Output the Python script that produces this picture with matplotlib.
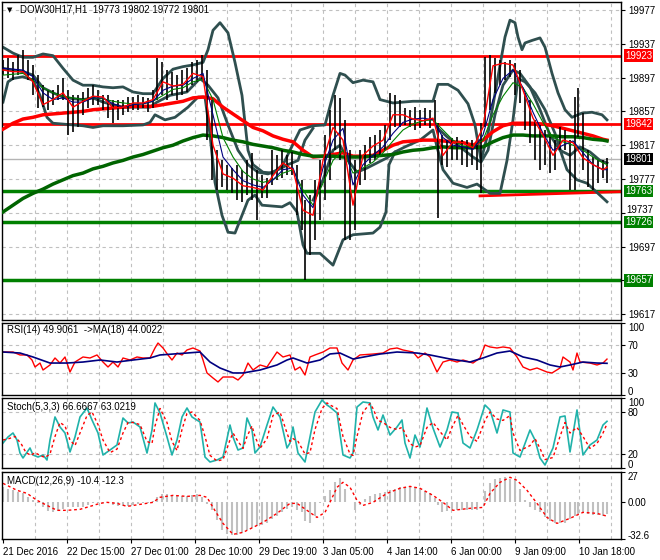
import matplotlib
matplotlib.use('Agg')
import matplotlib.pyplot as plt
from matplotlib.transforms import blended_transform_factory

plt.rcParams['font.family'] = ['Liberation Sans', 'DejaVu Sans']
plt.rcParams['font.size'] = 7

# ---------------- price bars (bar index, high, low) ----------------
bar_x = [0, 2.5, 5, 7.5, 10, 12.5, 15, 17.5, 20, 22.5,
         25, 27.5, 30, 32.5, 35, 37.5, 40, 42.5, 45, 47.5,
         50, 52.5, 55, 57.5, 60, 62.5, 65, 67.5, 70, 72.5,
         75, 77, 79.5, 82, 84.5, 87, 89.5, 92, 94.5, 97,
         99.5, 102, 104.5, 107, 109.5, 112, 114.5, 117, 119.5, 122,
         124.5, 127, 129.5, 132, 134.5, 137, 139.5, 142, 144.5, 147,
         149.5, 151, 153.5, 156, 158.5, 161, 163.5, 166, 168.5, 171,
         173.5, 176, 178.5, 181, 183.5, 186, 188.5, 191, 193.5, 196,
         198.5, 201, 203.5, 206, 208.5, 211, 213.5, 216, 217.5, 219.5,
         222, 224.5, 227, 229.5, 232, 234.5, 237, 239, 241, 243.5,
         246, 248.5, 251, 253.5, 256, 258.5, 261, 263.5, 266, 268.5,
         271, 273.5, 276, 278.5, 281, 283.5, 286, 287.5, 290, 292.5,
         295, 297.5, 300, 302]
bar_high = [19918, 19920, 19915, 19924, 19930, 19918, 19912, 19900, 19888, 19882,
            19882, 19888, 19896, 19882, 19876, 19876, 19880, 19885, 19888, 19882,
            19876, 19876, 19871, 19871, 19871, 19874, 19874, 19876, 19874, 19873,
            19882, 19920, 19915, 19906, 19904, 19900, 19906, 19908, 19915, 19918,
            19924, 19906, 19871, 19811, 19799, 19794, 19790, 19794, 19788, 19799,
            19808, 19788, 19782, 19778, 19811, 19805, 19811, 19805, 19809, 19794,
            19776, 19752, 19758, 19776, 19799, 19829, 19859, 19876, 19873, 19847,
            19811, 19799, 19811, 19817, 19827, 19829, 19835, 19841, 19879, 19876,
            19871, 19861, 19859, 19862, 19859, 19861, 19859, 19871, 19843, 19829,
            19823, 19826, 19827, 19823, 19823, 19823, 19817, 19843, 19921, 19924,
            19920, 19918, 19915, 19918, 19914, 19906, 19879, 19871, 19847, 19841,
            19835, 19827, 19823, 19838, 19835, 19823, 19874, 19885, 19855, 19811,
            19803, 19799, 19799, 19802]
bar_low = [19900, 19896, 19894, 19900, 19904, 19894, 19876, 19861, 19862, 19859,
           19865, 19871, 19871, 19829, 19833, 19838, 19853, 19861, 19865, 19865,
           19859, 19849, 19843, 19847, 19853, 19856, 19859, 19859, 19861, 19856,
           19861, 19871, 19876, 19871, 19876, 19871, 19876, 19880, 19888, 19892,
           19894, 19823, 19776, 19764, 19767, 19764, 19760, 19752, 19750, 19758,
           19752, 19728, 19754, 19754, 19770, 19776, 19778, 19782, 19782, 19734,
           19717, 19657, 19687, 19705, 19728, 19752, 19776, 19811, 19799, 19705,
           19705, 19717, 19770, 19776, 19796, 19799, 19805, 19811, 19823, 19838,
           19838, 19841, 19838, 19835, 19837, 19841, 19837, 19841, 19731, 19794,
           19791, 19799, 19799, 19794, 19791, 19794, 19788, 19760, 19838, 19859,
           19879, 19888, 19894, 19898, 19876, 19867, 19835, 19820, 19799, 19788,
           19794, 19784, 19788, 19811, 19811, 19764, 19764, 19827, 19788, 19767,
           19764, 19772, 19778, 19772]

# ---------------- moving averages, read every 5 bars ----------------
ma_x = [0, 5, 10, 15, 20, 25, 30, 35, 40, 45, 50, 55, 60, 65, 70, 75, 80, 85, 90, 95,
        100, 105, 110, 115, 120, 125, 130, 135, 140, 145, 150, 155, 160, 165, 170, 175,
        180, 185, 190, 195, 200, 205, 210, 215, 220, 225, 230, 235, 240, 245, 250, 255,
        260, 265, 270, 275, 280, 285, 290, 295, 300, 302]
ma_fast = [19906, 19904, 19904, 19892, 19865, 19871, 19879, 19862, 19869, 19875,
           19874, 19861, 19862, 19867, 19867, 19871, 19892, 19887, 19889, 19902,
           19898, 19817, 19783, 19778, 19769, 19767, 19764, 19781, 19796, 19788,
           19740, 19734, 19799, 19838, 19823, 19746, 19805, 19816, 19823, 19853,
           19853, 19848, 19846, 19849, 19805, 19821, 19820, 19814, 19838, 19911,
           19914, 19912, 19882, 19849, 19829, 19805, 19823, 19820, 19802, 19794,
           19788, 19791]
ma_blue = [19908, 19907, 19906, 19898, 19879, 19871, 19873, 19868, 19868, 19873,
           19873, 19866, 19862, 19865, 19866, 19869, 19882, 19887, 19888, 19896,
           19902, 19853, 19803, 19788, 19775, 19770, 19767, 19776, 19788, 19790,
           19758, 19743, 19790, 19823, 19837, 19770, 19794, 19805, 19815, 19831,
           19844, 19848, 19849, 19847, 19826, 19817, 19815, 19812, 19829, 19871,
           19896, 19906, 19885, 19856, 19831, 19811, 19817, 19822, 19808, 19794,
           19788, 19788]
ma_green = [19900, 19901, 19902, 19894, 19885, 19879, 19875, 19873, 19871, 19873,
            19872, 19869, 19867, 19866, 19866, 19869, 19876, 19883, 19885, 19892,
            19895, 19871, 19826, 19803, 19786, 19777, 19773, 19776, 19784, 19788,
            19764, 19746, 19772, 19799, 19811, 19784, 19790, 19797, 19808, 19822,
            19835, 19842, 19846, 19847, 19835, 19823, 19816, 19816, 19823, 19853,
            19875, 19891, 19885, 19866, 19844, 19826, 19821, 19817, 19811, 19803,
            19796, 19794]
ma_100 = [19836, 19843, 19848, 19850, 19853, 19854, 19855, 19856, 19857, 19859,
          19860, 19861, 19862, 19863, 19863, 19863, 19865, 19867, 19869, 19873,
          19874, 19872, 19862, 19854, 19846, 19838, 19834, 19828, 19824, 19821,
          19811, 19803, 19804, 19806, 19808, 19804, 19804, 19805, 19811, 19817,
          19821, 19822, 19823, 19823, 19822, 19821, 19820, 19817, 19823, 19833,
          19840, 19843, 19843, 19843, 19842, 19840, 19837, 19834, 19831, 19828,
          19824, 19823]
ma_200 = [19738, 19746, 19754, 19760, 19765, 19771, 19776, 19781, 19784, 19789,
          19792, 19796, 19799, 19803, 19806, 19810, 19814, 19817, 19822, 19826,
          19829, 19828, 19826, 19823, 19821, 19818, 19816, 19814, 19811, 19809,
          19806, 19804, 19804, 19804, 19803, 19803, 19803, 19804, 19805, 19806,
          19809, 19811, 19812, 19814, 19815, 19814, 19814, 19814, 19815, 19821,
          19826, 19829, 19829, 19828, 19828, 19828, 19827, 19827, 19826, 19824,
          19823, 19822]

# ---------------- band lines ----------------
wu_x = [0, 5, 10, 15, 20, 25, 30, 35, 40, 45, 50, 55, 60, 65, 70, 75, 80, 85, 90, 95,
        100, 102.5, 105, 108.5, 112.5, 116, 119.5, 122.5, 125, 130, 135, 140, 143.5,
        148.5, 155, 161, 165, 168.5, 171, 175, 180, 185, 188.5, 195, 205, 215, 217.5,
        222.5, 227.5, 232.5, 236, 239, 242.5, 247.5, 251, 253.5, 256, 257.5, 259.5,
        261, 264.5, 268.5, 271, 274.5, 277.5, 281, 284.5, 289.5, 294.5, 299.5, 302]
wu_y = [19933, 19926, 19921, 19921, 19925, 19923, 19908, 19894, 19888, 19888,
        19886, 19885, 19886, 19880, 19878, 19878, 19896, 19907, 19910, 19912,
        19915, 19930, 19953, 19962, 19950, 19915, 19876, 19811, 19794, 19785,
        19784, 19794, 19811, 19835, 19840, 19841, 19876, 19902, 19900, 19891,
        19894, 19892, 19871, 19867, 19869, 19869, 19889, 19889, 19882, 19866,
        19841, 19799, 19831, 19898, 19945, 19965, 19962, 19945, 19930, 19938,
        19941, 19944, 19933, 19902, 19879, 19859, 19850, 19855, 19856, 19853, 19847]
wl_x = [0, 2.5, 5, 10, 15, 18.5, 22, 25, 30, 35, 40, 45, 50, 60, 70, 73.5, 76, 81, 86,
        92.5, 97.5, 101, 103.5, 106, 109.5, 112.5, 116, 119.5, 122.5, 126, 129.5,
        134.5, 139.5, 143.5, 147, 150, 152, 158.5, 165, 170, 175, 185, 188.5, 191.5,
        193, 196, 201, 208.5, 215, 217, 220, 225, 232, 237, 240, 243.5, 248.5, 252,
        255, 257.5, 261, 266, 271, 276, 279.5, 282, 287, 292, 297, 302]
wl_y = [19868, 19892, 19896, 19898, 19894, 19876, 19850, 19843, 19842, 19841,
        19840, 19838, 19840, 19840, 19841, 19844, 19853, 19847, 19850, 19862,
        19874, 19874, 19829, 19773, 19734, 19714, 19713, 19734, 19752, 19758,
        19746, 19745, 19744, 19749, 19738, 19699, 19689, 19689, 19675, 19705,
        19711, 19713, 19720, 19738, 19794, 19809, 19815, 19823, 19835, 19815,
        19788, 19772, 19767, 19771, 19766, 19760, 19760, 19799, 19847, 19896,
        19892, 19879, 19859, 19831, 19805, 19788, 19776, 19772, 19761, 19750]
nu_x = [0, 5, 10, 15, 20, 25, 30, 35, 40, 45, 50, 55, 60, 65, 70, 73.5, 77, 83.5, 92,
        98.5, 102.5, 107.5, 112.5, 117.5, 122.5, 127.5, 132.5, 137.5, 142.5, 147.5,
        151, 155]
nu_y = [19908, 19906, 19904, 19900, 19885, 19879, 19874, 19872, 19871, 19873,
        19868, 19865, 19862, 19862, 19862, 19862, 19868, 19876, 19880, 19896,
        19888, 19873, 19841, 19811, 19794, 19785, 19783, 19788, 19794, 19799,
        19823, 19837]
nl_x = [155, 160, 165, 168.5, 172.5, 177, 182, 187, 192, 196]
nl_y = [19752, 19776, 19811, 19817, 19799, 19785, 19790, 19796, 19802, 19809]
nu2_x = [217, 222, 228.5, 235, 239, 242.5, 246, 250, 255, 258.5, 263.5, 268.5,
         273.5, 278.5, 283.5, 288.5, 293.5, 298.5, 302]
nu2_y = [19838, 19827, 19815, 19803, 19797, 19811, 19853, 19888, 19906, 19902,
         19886, 19859, 19829, 19811, 19805, 19815, 19809, 19799, 19796]

trend_x = [238.5, 309]
trend_y = [19757, 19762]
red_levels = [19923, 19842]
green_levels = [19763, 19726, 19657]
last_price = 19801
price_ticks = [19617, 19657, 19697, 19737, 19777, 19817, 19857, 19897, 19937, 19977]

# ---------------- RSI ----------------
rsi_x = [0, 5, 8.5, 12, 14.5, 16, 18.5, 20, 23.5, 26, 28.5, 31, 33.5, 36, 40, 43.5, 47,
         50, 52.5, 55, 57.5, 60, 63.5, 67, 70, 73.5, 76, 77.5, 80, 82.5, 84.5, 87, 89.5,
         92, 95, 98.5, 100, 102, 105, 107.5, 110, 115, 117.5, 120, 122.5, 125, 128.5,
         132, 135, 137, 140, 143.5, 146, 148.5, 151, 153.5, 156, 160, 163.5, 167, 169.5,
         172.5, 175, 178.5, 185, 190, 193.5, 197, 200, 205, 207.5, 211, 213.5, 217, 220,
         223.5, 227, 230, 235, 238.5, 241, 243.5, 247, 250, 253.5, 257, 260, 263.5, 267,
         272, 274.5, 278.5, 280, 283.5, 285, 287, 288.5, 293.5, 297, 300, 302]
rsi_v = [59.7, 59.7, 55.6, 55.6, 48.6, 38.9, 44.4, 34.7, 41.7, 51.4, 44.4, 52.8, 31.9,
         45.8, 52.8, 51.4, 55.6, 45.8, 38.9, 45.8, 38.9, 51.4, 48.6, 52.8, 51.4, 51.4,
         65.3, 72.2, 65.3, 55.6, 48.6, 58.3, 55.6, 62.5, 65.3, 61.1, 48.6, 30.6, 23.6,
         18.1, 25.0, 25.0, 20.8, 27.8, 44.4, 34.7, 41.7, 38.9, 51.4, 59.7, 52.8, 55.6,
         34.7, 38.9, 27.8, 52.8, 55.6, 59.7, 65.3, 65.3, 44.4, 34.7, 48.6, 55.6, 56.9,
         58.3, 63.9, 65.3, 62.5, 59.7, 51.4, 58.3, 52.8, 31.9, 45.8, 48.6, 45.8, 48.6,
         44.4, 51.4, 69.4, 66.7, 65.3, 66.7, 65.3, 52.8, 38.9, 34.7, 37.5, 31.9, 30.6,
         37.5, 52.8, 45.8, 34.7, 58.3, 45.8, 44.4, 41.7, 44.4, 49.9]
rsi_ma_x = [0, 8.5, 15, 23.5, 32, 40, 48.5, 57, 65, 73.5, 78.5, 85, 92, 98.5, 103.5,
            108.5, 115, 120, 128.5, 137, 142, 145, 152, 158.5, 163.5, 168.5, 175,
            188.5, 197, 207, 213.5, 223.5, 233.5, 240, 247, 253.5, 260, 267, 273.5,
            278.5, 283.5, 290, 297, 302]
rsi_ma_v = [59.7, 58.3, 52.8, 44.4, 44.4, 45.8, 48.6, 45.8, 48.6, 51.4, 55.6, 56.9,
            58.3, 59.7, 45.8, 37.5, 30.6, 30.6, 34.7, 41.7, 48.6, 51.4, 44.4, 48.6,
            57.0, 58.3, 50.0, 56.9, 59.7, 58.3, 55.6, 50.0, 45.8, 51.4, 58.3, 61.1,
            52.8, 48.6, 41.7, 38.9, 41.7, 45.8, 44.4, 44.0]

# ---------------- Stochastic ----------------
sto_x = [0, 2.5, 5, 7, 8.5, 10, 13.5, 15, 17.5, 20, 22, 23.5, 26, 28.5, 31, 33.5, 36,
         38.5, 42, 44.5, 47.5, 50, 53.5, 57, 60, 62.5, 65, 68.5, 72, 74.5, 76, 78.5, 82,
         84.5, 87, 89.5, 92, 94.5, 98.5, 101, 103.5, 107, 110, 113.5, 115, 117.5, 120,
         122, 124.5, 126, 128.5, 132, 135, 138.5, 142, 143.5, 145, 147.5, 151, 153.5,
         156, 159.5, 162, 163.5, 167, 170, 173.5, 175, 177, 180, 183.5, 185, 187.5, 190,
         193.5, 197, 199.5, 201, 203.5, 206, 208.5, 212, 215, 218.5, 222, 224.5, 227.5,
         230, 233.5, 237, 241, 243.5, 247, 250, 253.5, 255, 258.5, 263.5, 266, 268.5,
         271, 275, 278.5, 281, 283.5, 287, 290, 293.5, 297, 300, 302]
sto_main = [35.7, 44.3, 50, 40, 21.4, 14.3, 28.6, 18.6, 15.7, 18.6, 11.4, 40, 72.9,
            58.6, 50, 22.9, 44.3, 72.9, 85.7, 68.6, 50, 18.6, 25.7, 32.9, 71.4, 64.3,
            65.7, 58.6, 21.4, 54.3, 92.9, 78.6, 44.3, 18.6, 40, 72.9, 85.7, 72.9, 65.7,
            15.7, 8.6, 11.4, 15.7, 61.4, 44.3, 25.7, 28.6, 71.4, 54.3, 21.4, 30, 61.4,
            87.1, 72.9, 28.6, 35.7, 58.6, 21.4, 8.6, 44.3, 80, 97.1, 90, 87.1, 78.6,
            18.6, 14.3, 21.4, 87.1, 94.3, 92.9, 72.9, 54.3, 75.7, 47.1, 58.6, 68.6,
            35.7, 14.3, 47.1, 30, 85.7, 57.1, 30, 54.3, 80, 78.6, 35.7, 28.6, 54.3, 90,
            82.9, 50, 82.9, 80, 21.4, 15.7, 54.3, 40, 14.3, 4.3, 28.6, 72.9, 74.3,
            22.9, 82.9, 18.6, 32.9, 40, 61.4, 66.7]
sig_x = [0, 3, 6, 9, 11.5, 14, 16, 18.5, 21, 23.5, 26, 28.5, 31, 33.5, 36, 38.5, 42,
         44.5, 47.5, 50, 53.5, 57, 60, 62.5, 65, 68.5, 72, 74.5, 76, 78.5, 82, 84.5, 87,
         89.5, 92, 94.5, 98.5, 101, 103.5, 107, 110, 113.5, 115, 117.5, 120, 122, 124.5,
         126, 128.5, 132, 135, 138.5, 142, 143.5, 145, 147.5, 151, 153.5, 156, 159.5,
         162, 163.5, 167, 170, 173.5, 175, 177, 180, 183.5, 185, 187.5, 190, 193.5,
         197, 199.5, 201, 203.5, 206, 208.5, 212, 215, 218.5, 222, 224.5, 227.5, 230,
         233.5, 237, 241, 243.5, 247, 250, 253.5, 255, 258.5, 263.5, 266, 268.5, 271,
         275, 278.5, 281, 283.5, 287, 290, 293.5, 297, 300, 302]
sto_signal = [40, 42, 45, 35, 22, 18, 22, 18, 15, 20, 45, 65, 60, 40, 32, 50, 75, 80,
              62, 40, 22, 27, 50, 65, 65, 62, 38, 35, 60, 85, 65, 38, 25, 55, 78, 80,
              68, 45, 18, 10, 12, 40, 50, 38, 28, 45, 60, 45, 28, 42, 75, 80, 50, 38,
              42, 38, 20, 22, 55, 85, 93, 90, 85, 45, 20, 18, 45, 80, 92, 85, 68, 65,
              58, 55, 58, 50, 35, 30, 32, 58, 65, 52, 40, 58, 75, 62, 45, 38, 68, 80,
              70, 68, 75, 50, 25, 32, 42, 28, 12, 15, 45, 65, 50, 58, 45, 28, 35, 50, 63]

# ---------------- MACD ----------------
macd_hist = [13.4, 12, 10.7, 9.5, 8, 5, 2.5, -0.5, -4.5, -7.5,
             -9, -8, -6, -4.5, -4.5, -4.5, -4, -2.5, -1, -0.5,
             -0.5, -0.5, -2, -3, -3.6, -3.6, -2.5, -1.5, -1, -0.5,
             1.5, 5, 7, 7, 6.5, 6, 5.5, 5.5, 6.5, 7,
             4.5, -1.5, -7, -16, -25, -28, -29.4, -29, -27, -25,
             -23, -21, -20, -18, -15, -12, -9, -6, -4.5, -7,
             -9, -17, -18, -12, -1, 6, 11, 18, 22, 12,
             0, -7, -2, 3, 5.5, 7, 8, 9.5, 10.7, 12,
             13.4, 14, 14.2, 13.5, 12.5, 10, 8, 4, -2, -9,
             -8, -7, -7, -7, -7, -7, -7, 0, 10, 17,
             20.5, 21.5, 22.3, 21, 19.6, 12, 2, -4, -7, -9,
             -13, -17, -18.5, -18.7, -18, -15, -12, -10, -9, -10,
             -11, -11.5, -12, -10.4]
macd_sig_x = [0, 7, 12, 17, 22, 27, 32, 38.5, 43.5, 48.5, 52, 57, 62, 68.5, 75, 78.5,
              85, 92, 98.5, 102, 105, 110, 115, 120, 125, 130, 137, 143.5, 147, 152,
              157, 161, 163.5, 167, 170, 173.5, 177, 180, 185, 192, 198.5, 203.5,
              208.5, 215, 220, 225, 233.5, 240, 243.5, 248.5, 253.5, 257, 262, 267,
              272, 277, 283.5, 290, 297, 302]
macd_signal = [16.9, 10.7, 8.0, 1.8, -2.7, -7.1, -7.1, -6.2, -3.6, -0.9, 0, -0.9,
               -3.6, -1.8, 0, 4.5, 6.2, 5.3, 6.2, 4.5, -4.5, -18.7, -28.5, -26.7,
               -22.3, -17.8, -9.8, -0.9, -0.9, -7.1, -13.4, -8.9, 0, 13.4, 17.8, 13.4,
               1.8, -2.7, 0, 8.0, 12.5, 14.2, 12.5, 6.2, 0, -7.1, -5.3, -4.5, 8.0,
               17.8, 22.3, 19.6, 10.7, -0.9, -13.4, -18.7, -14.2, -8.9, -9.8, -12.3]

# time axis labels every 32 hourly bars
time_ticks = [0, 32, 64, 96, 128, 160, 192, 224, 256, 288]
time_labels = ['21 Dec 2016', '22 Dec 15:00', '27 Dec 01:00', '28 Dec 10:00',
               '29 Dec 19:00', '3 Jan 05:00', '4 Jan 14:00', '6 Jan 00:00',
               '9 Jan 09:00', '10 Jan 18:00']

GRID = '#c0c0c0'
SLATE = '#2f4f4f'
W, H = 660, 560

fig = plt.figure(figsize=(6.6, 5.6), dpi=100)


def px_axes(x0, y0, x1, y1):
    return fig.add_axes([x0 / W, 1 - y1 / H, (x1 - x0) / W, (y1 - y0) / H])


def style(ax):
    ax.set_xlim(-0.5, 309)
    for s in ax.spines.values():
        s.set_color('black')
        s.set_linewidth(1)
    ax.yaxis.tick_right()
    ax.tick_params(axis='y', direction='out', length=3, width=0.8, labelsize=7, pad=2)
    ax.set_xticks([])
    for gx in range(16, 309, 16):
        ax.axvline(gx, color=GRID, lw=0.8, ls=(0, (3, 3)), zorder=0)


ax = px_axes(2, 2, 621, 320)
ax_rsi = px_axes(2, 323, 621, 395)
ax_sto = px_axes(2, 398, 621, 468)
ax_macd = px_axes(2, 472, 621, 539)
for a in (ax, ax_rsi, ax_sto, ax_macd):
    style(a)

# ---- main price panel ----
ax.set_ylim(19610.1, 19986.5)
ax.set_yticks(price_ticks)
# 19657 sits under its level box, 19737 is written a touch higher below
ax.set_yticklabels(['' if t in (19657, 19737) else str(t) for t in price_ticks])
for t in price_ticks:
    ax.axhline(t, color=GRID, lw=0.8, ls=(0, (3, 3)), zorder=0)
ax.axhline(last_price, color='#b4b4b4', lw=1, zorder=1)
for lv in red_levels:
    ax.axhline(lv, color='red', lw=2, zorder=1)
for lv in green_levels:
    ax.axhline(lv, color='#008000', lw=2.5, zorder=1)
ax.plot(trend_x, trend_y, color='red', lw=2, zorder=1)

ax.plot(wu_x, wu_y, color=SLATE, lw=2, zorder=2)
ax.plot(wl_x, wl_y, color=SLATE, lw=2, zorder=2)
ax.plot(nu_x, nu_y, color=SLATE, lw=2, zorder=2)
ax.plot(nl_x, nl_y, color=SLATE, lw=2, zorder=2)
ax.plot(nu2_x, nu2_y, color=SLATE, lw=2, zorder=2)
ax.plot(ma_x, ma_100, color='red', lw=2.5, zorder=3)
ax.plot(ma_x, ma_200, color='#006400', lw=2.5, zorder=3)
ax.vlines(bar_x, bar_low, bar_high, color='black', lw=1.2, zorder=4)
ax.plot(ma_x, ma_green, color='#008000', lw=0.8, zorder=5)
ax.plot(ma_x, ma_blue, color='#000080', lw=0.8, zorder=5)
ax.plot(ma_x, ma_fast, color='red', lw=1, zorder=6)

tr = blended_transform_factory(ax.transAxes, ax.transData)
ax.text(1.0081, 19740, '19737', transform=tr, color='black', fontsize=7,
        va='center', ha='left', clip_on=False)
boxes = [(19923, 'red'), (19842, 'red'), (last_price, 'black'),
         (19763, '#008000'), (19726, '#008000'), (19657, '#008000')]
for val, col in boxes:
    ax.text(1.0065, val, str(val), transform=tr, color='white', fontsize=7,
            va='center', ha='left', clip_on=False, zorder=10,
            bbox=dict(boxstyle='square,pad=0.12', facecolor=col, edgecolor='none'))

fig.text(7 / W, 1 - 10 / H, '\u25bc', fontsize=5, va='center', ha='left',
         family=['DejaVu Sans'])
fig.text(20 / W, 1 - 10 / H, 'DOW30H17,H1  19773 19802 19772 19801', fontsize=7,
         va='center', ha='left')

# ---- RSI ----
ax_rsi.set_ylim(0, 100)
for lv in (30, 70):
    ax_rsi.axhline(lv, color=GRID, lw=0.8, ls=(0, (3, 3)), zorder=0)
ax_rsi.plot(rsi_x, rsi_v, color='red', lw=1)
ax_rsi.plot(rsi_ma_x, rsi_ma_v, color='#000080', lw=1.2)
ax_rsi.set_yticks([0, 30, 70, 100])
ax_rsi.set_yticklabels(['0', '30', '70', '100'])
fig.text(7 / W, 1 - 330 / H, 'RSI(14) 49.9061  ->MA(18) 44.0022', fontsize=7,
         va='center', ha='left')

# ---- Stochastic ----
ax_sto.set_ylim(0, 100)
for lv in (20, 80):
    ax_sto.axhline(lv, color=GRID, lw=0.8, ls=(0, (3, 3)), zorder=0)
ax_sto.plot(sto_x, sto_main, color='#20b2aa', lw=1.2)
ax_sto.plot(sig_x, sto_signal, color='red', lw=1, ls=(0, (2, 2)))
ax_sto.set_yticks([0, 20, 80, 100])
ax_sto.set_yticklabels(['0', '20', '80', '100'])
fig.text(7 / W, 1 - 407 / H, 'Stoch(5,3,3) 66.6667 63.0219', fontsize=7,
         va='center', ha='left')

# ---- MACD ----
ax_macd.set_ylim(-32.6, 27)
ax_macd.vlines(bar_x, 0, macd_hist, color='#c0c0c0', lw=1.5)
ax_macd.plot(macd_sig_x, macd_signal, color='red', lw=1, ls=(0, (2, 2)))
ax_macd.set_yticks([-32.6, 0, 27])
ax_macd.set_yticklabels(['-32.6', '0.00', '27'])
fig.text(7 / W, 1 - 481 / H, 'MACD(12,26,9) -10.4 -12.3', fontsize=7,
         va='center', ha='left')

# keep the end labels of each sub window inside it
for a in (ax_rsi, ax_sto, ax_macd):
    labs = a.get_yticklabels()
    labs[0].set_va('baseline')
    labs[-1].set_va('top')

ax_macd.set_xticks(time_ticks)
ax_macd.set_xticklabels(time_labels, ha='left')
ax_macd.tick_params(axis='x', direction='out', length=3, width=0.8, labelsize=7, pad=3)

fig.savefig('out.png', dpi=100)
